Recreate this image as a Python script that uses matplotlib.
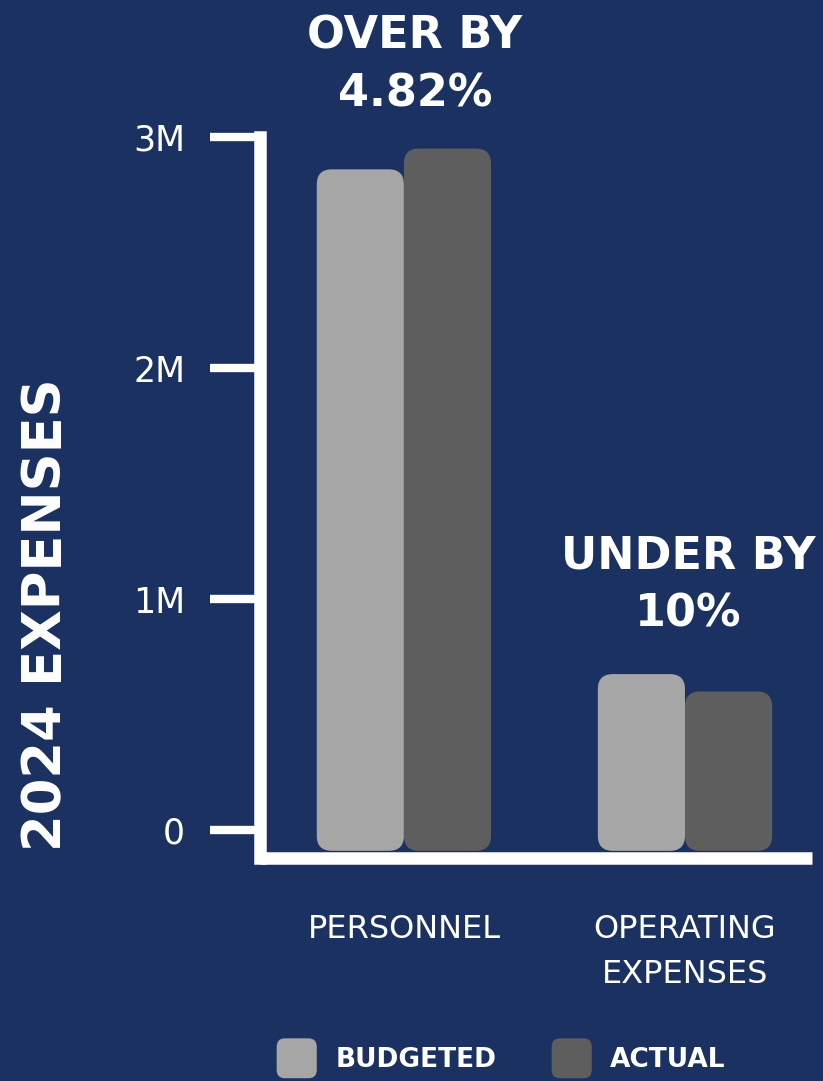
import matplotlib
matplotlib.use("Agg")
import matplotlib.pyplot as plt
from matplotlib import font_manager
from matplotlib.patches import FancyBboxPatch, Patch
from matplotlib.legend_handler import HandlerPatch

categories = ["PERSONNEL", "OPERATING\nEXPENSES"]
budgeted = [2.86, 0.675]   # millions
actual = [2.95, 0.60]
tick_vals = [0, 1, 2, 3]
tick_labels = ["0", "1M", "2M", "3M"]
notes = ["OVER BY\n4.82%", "UNDER BY\n10%"]

bg = "#1b3161"
light = "#a6a6a6"
dark = "#5e5e5e"

names = set(f.name for f in font_manager.fontManager.ttflist)
narrow = "Liberation Sans Narrow" if "Liberation Sans Narrow" in names else "DejaVu Sans"

fig = plt.figure(figsize=(8.23, 10.81), dpi=100, facecolor=bg)
ax = fig.add_axes([260 / 823, 1 - 858 / 1081, (812 - 260) / 823, (858 - 137) / 1081])
ax.set_facecolor(bg)
ax.set_xlim(-0.512, 1.452)
ax.set_ylim(-0.121, 3.0)

w = 0.31
base = -0.09  # bars start just above the axis line
xs = range(len(categories))

fig.canvas.draw()
# pixel -> data ratio to keep the corner rounding circular
p0 = ax.transData.transform((0, 0))
p1 = ax.transData.transform((1, 1))
aspect = (p1[0] - p0[0]) / (p1[1] - p0[1])
r = 15 / (p1[0] - p0[0])

def rbar(x, h, color, z):
    ax.add_patch(FancyBboxPatch((x - w / 2, base), w, h - base,
                                boxstyle=f"round,pad=0,rounding_size={r}",
                                mutation_aspect=aspect, facecolor=color,
                                edgecolor="none", zorder=z))

for i in xs:
    rbar(i - w / 2, budgeted[i], light, 2)
    rbar(i + w / 2, actual[i], dark, 3 if i == 0 else 1)

for s in ["top", "right"]:
    ax.spines[s].set_visible(False)
for s in ["left", "bottom"]:
    ax.spines[s].set_color("white")
    ax.spines[s].set_linewidth(9)
ax.spines["left"].set_capstyle("projecting")
ax.spines["bottom"].set_capstyle("butt")

ax.set_yticks(tick_vals)
ax.set_yticklabels(tick_labels)
ax.tick_params(axis="y", colors="white", length=36, width=6, pad=18,
               labelsize=25)
for t in ax.get_yticklabels():
    t.set_family(narrow)

ax.set_xticks(list(xs))
ax.set_xticklabels(categories, linespacing=1.6)
ax.tick_params(axis="x", colors="white", length=0, pad=40, labelsize=23)
for t in ax.get_xticklabels():
    t.set_family(narrow)
    t.set_verticalalignment("top")

fig.text(46 / 823, 1 - 615 / 1081, "2024 EXPENSES", rotation=90, color="white",
         fontsize=38, fontweight="bold", ha="center", va="center")

fig.text(415 / 823, 1 - 65 / 1081, notes[0], color="white", fontsize=32,
         fontweight="bold", ha="center", va="center", linespacing=1.45)
fig.text(688 / 823, 1 - 585 / 1081, notes[1], color="white", fontsize=32,
         fontweight="bold", ha="center", va="center", linespacing=1.45)

def round_handle(legend, orig_handle, xdescent, ydescent, width, height, fontsize):
    return FancyBboxPatch((-xdescent, -ydescent), width, height,
                          boxstyle="round,pad=0,rounding_size=6")

handles = [Patch(facecolor=light, edgecolor="none", label="BUDGETED"),
           Patch(facecolor=dark, edgecolor="none", label="ACTUAL")]
leg = fig.legend(handles=handles, loc="center", bbox_to_anchor=(0.609, 0.021),
                 ncol=2, frameon=False, handlelength=1.52, handleheight=1.95,
                 handletextpad=0.7, columnspacing=2.1, borderpad=0,
                 prop={"size": 19, "weight": "bold"},
                 handler_map={Patch: HandlerPatch(patch_func=round_handle)})
for t in leg.get_texts():
    t.set_color("white")

fig.savefig("out.png", dpi=100, facecolor=bg)
